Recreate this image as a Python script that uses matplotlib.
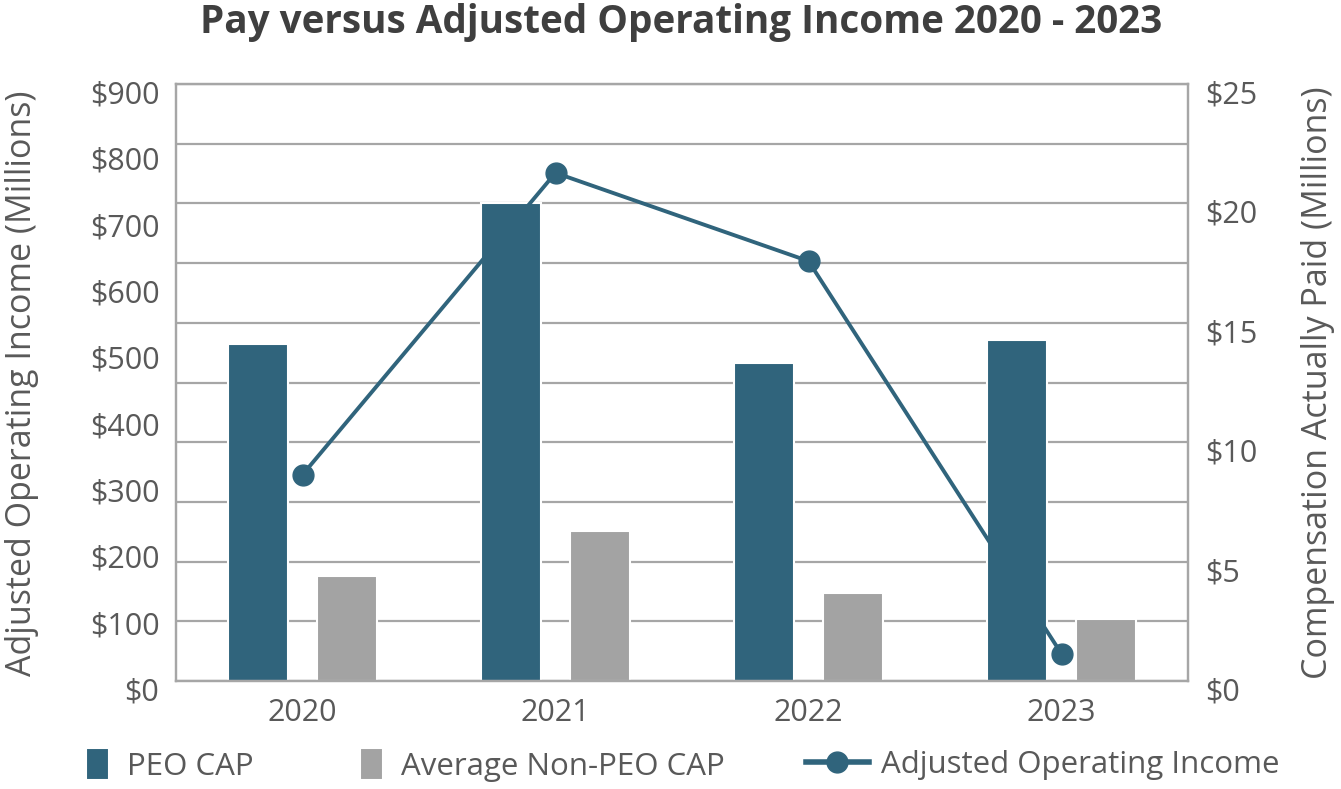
import matplotlib
matplotlib.use("Agg")
import matplotlib.pyplot as plt
import numpy as np
from matplotlib.transforms import ScaledTranslation
from matplotlib.lines import Line2D

plt.rcParams['font.family'] = ['Open Sans', 'DejaVu Sans']

years = ["2020", "2021", "2022", "2023"]
peo_cap = [14.1, 20.0, 13.3, 14.3]          # $M, right axis
non_peo_cap = [4.4, 6.3, 3.7, 2.6]          # $M, right axis
adj_op_income = [311, 766, 633, 41]         # $M, left axis

left_ticks = list(range(0, 901, 100))
right_ticks = list(range(0, 26, 5))

BLUE = "#30647c"
GRAY = "#a3a3a3"
TXT = "#595959"
GRID = "#a6a6a6"

fig = plt.figure(figsize=(13.41, 7.89), dpi=100)
ax = fig.add_axes([176 / 1341, 108 / 789, 1012 / 1341, 597 / 789])
ax2 = ax.twinx()

x = np.arange(len(years))
off = 0.175
w = 0.235
b1 = ax.bar(x - off, peo_cap, w, color=BLUE, edgecolor="white", linewidth=1.5, zorder=2)
b2 = ax.bar(x + off, non_peo_cap, w, color=GRAY, edgecolor="white", linewidth=1.5, zorder=2)
ln, = ax2.plot(x, adj_op_income, color=BLUE, lw=2.8, marker="o", ms=15, zorder=3)

ax.set_xlim(-0.5, len(years) - 0.5)
ax.set_ylim(0, 25)
ax2.set_ylim(0, 900)

# bars scale on the right, income scale on the left
ax.yaxis.tick_right()
ax2.yaxis.tick_left()
ax.set_yticks(right_ticks)
ax.set_yticklabels([f"${v}" for v in right_ticks])
ax.set_yticks(np.arange(2.5, 25, 5), minor=True)
ax2.set_yticks(left_ticks)
ax2.set_yticklabels([f"${v}" for v in left_ticks])

ax.grid(True, which="both", axis="y", color=GRID, lw=1.6)
ax.set_axisbelow(True)

ax.set_xticks(x)
ax.set_xticklabels(years)
ax.tick_params(axis="x", length=0, pad=12, labelsize=22, labelcolor=TXT)
ax.tick_params(axis="y", which="both", length=0, pad=12, labelsize=22, labelcolor=TXT)
ax2.tick_params(axis="y", length=0, pad=12, labelsize=22, labelcolor=TXT)

shift = ScaledTranslation(0, -8 / 100, fig.dpi_scale_trans)
for lab in ax.get_yticklabels() + ax2.get_yticklabels():
    lab.set_transform(lab.get_transform() + shift)

for a in (ax, ax2):
    for s in a.spines.values():
        s.set_color(GRID)
        s.set_linewidth(1.6)

fig.text(22 / 1341, 1 - 383 / 789, "Adjusted Operating Income (Millions)",
         rotation=90, ha="center", va="center", fontsize=24.5, color=TXT)
fig.text(1318 / 1341, 1 - 383 / 789, "Compensation Actually Paid (Millions)",
         rotation=90, ha="center", va="center", fontsize=24.5, color=TXT)

fig.text(681 / 1341, 1 - 22 / 789, "Pay versus Adjusted Operating Income 2020 - 2023",
         ha="center", va="center", fontsize=27.8, fontweight="bold", color="#3f3f3f")

# legend, one entry at a time so each handle can keep its own shape
leg_kw = dict(frameon=False, fontsize=22.5, labelcolor=TXT, loc="center left", handletextpad=0.55,
              borderaxespad=0, borderpad=0)
l1 = fig.legend([b1], ["PEO CAP"], bbox_to_anchor=(86 / 1341, 1 - 765 / 789),
                handlelength=0.75, handleheight=1.2, **leg_kw)
l2 = fig.legend([b2], ["Average Non-PEO CAP"], bbox_to_anchor=(360 / 1341, 1 - 765 / 789),
                handlelength=0.75, handleheight=1.2, **leg_kw)
h3 = Line2D([], [], color=BLUE, lw=4, marker="o", ms=15)
l3 = fig.legend([h3], ["Adjusted Operating Income"], bbox_to_anchor=(806 / 1341, 1 - 765 / 789),
                handlelength=2.0, handletextpad=0.4,
                **{k: v for k, v in leg_kw.items() if k != "handletextpad"})

fig.savefig("out.png", dpi=100)
